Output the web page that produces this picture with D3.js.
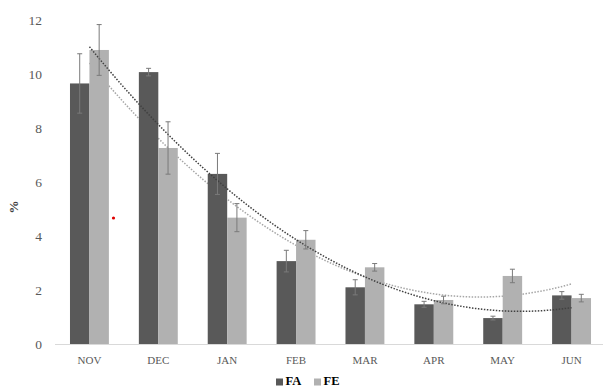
<!DOCTYPE html>
<html><head><meta charset="utf-8">
<script src="https://cdn.jsdelivr.net/npm/d3@7"></script>
<style>body{margin:0;background:#fff}svg{display:block}</style>
</head><body>
<svg id="c" width="603" height="387"></svg>
<script>
const categories = ["NOV","DEC","JAN","FEB","MAR","APR","MAY","JUN"];
const seriesNames = ["FA","FE"];
const faValues = [9.65,10.07,6.30,3.07,2.10,1.47,0.96,1.80];
const feValues = [10.89,7.26,4.68,3.86,2.84,1.63,2.52,1.70];
const faErrors = [1.10,0.14,0.76,0.40,0.28,0.11,0.07,0.14];
const feErrors = [0.94,0.97,0.52,0.34,0.14,0.14,0.25,0.14];
const yTicks = [0,2,4,6,8,10,12];
const colors = {FA:"#595959", FE:"#b1b1b1"};

const svg = d3.select("#c");
const x0 = d3.scaleBand().domain(categories).range([55,606]).padding(0);
const x1 = d3.scaleBand().domain(seriesNames).range([0,x0.bandwidth()]).paddingInner(0).paddingOuter(0.77);
const y = d3.scaleLinear().domain([0,12]).range([344,20]);

const data = {FA:faValues, FE:feValues};
const errs = {FA:faErrors, FE:feErrors};

// trendlines (order-2 polynomial least squares, like the spreadsheet trendline)
function polyFit(vals){
  const xs=vals.map((_,i)=>i+1);
  let S=[0,0,0,0,0], T=[0,0,0];
  xs.forEach((xv,i)=>{for(let k=0;k<5;k++)S[k]+=Math.pow(xv,k); for(let k=0;k<3;k++)T[k]+=Math.pow(xv,k)*vals[i];});
  const M=[[S[0],S[1],S[2],T[0]],[S[1],S[2],S[3],T[1]],[S[2],S[3],S[4],T[2]]];
  for(let i=0;i<3;i++){for(let j=i+1;j<3;j++){const f=M[j][i]/M[i][i];for(let k=i;k<4;k++)M[j][k]-=f*M[i][k];}}
  const c=[0,0,0];
  for(let i=2;i>=0;i--){let s=M[i][3];for(let k=i+1;k<3;k++)s-=M[i][k]*c[k];c[i]=s/M[i][i];}
  return xv=>c[0]+c[1]*xv+c[2]*xv*xv;
}
function trendPath(vals){
  const f=polyFit(vals); const pts=[];
  const steps=140;
  const start=x0(categories[0])+x0.bandwidth()/2;
  for(let s=0;s<=steps;s++){const xv=1+7*s/steps; pts.push([start+(xv-1)*x0.step(), y(f(xv))]);}
  return d3.line()(pts);
}

// light trend drawn under bars
svg.append("path").attr("d",trendPath(feValues)).attr("fill","none")
  .attr("stroke","#a6a6a6").attr("stroke-width",1.5).attr("stroke-dasharray","1.5,1.5");

// bars
const g = svg.append("g");
seriesNames.forEach(s=>{
  g.selectAll(null).data(categories).enter().append("rect")
    .attr("x",c=>x0(c)+x1(s)).attr("width",x1.bandwidth())
    .attr("y",(c,i)=>y(data[s][i])).attr("height",(c,i)=>y(0)-y(data[s][i]))
    .attr("fill",colors[s]);
});

// dark trend over bars
svg.append("path").attr("d",trendPath(faValues)).attr("fill","none")
  .attr("stroke","#404040").attr("stroke-width",1.5).attr("stroke-dasharray","1.5,1.5");

// error bars
seriesNames.forEach(s=>{
  categories.forEach((c,i)=>{
    const xm = x0(c)+x1(s)+x1.bandwidth()/2;
    const v=data[s][i], e=errs[s][i];
    const eg=svg.append("g").attr("stroke","#7a7a7a").attr("stroke-width",1);
    eg.append("line").attr("x1",xm).attr("x2",xm).attr("y1",y(v+e)).attr("y2",y(v-e));
    eg.append("line").attr("x1",xm-2.5).attr("x2",xm+2.5).attr("y1",y(v+e)).attr("y2",y(v+e));
    eg.append("line").attr("x1",xm-2.5).attr("x2",xm+2.5).attr("y1",y(v-e)).attr("y2",y(v-e));
  });
});

// x axis baseline
svg.append("line").attr("x1",55).attr("x2",603).attr("y1",y(0)+0.5).attr("y2",y(0)+0.5)
  .attr("stroke","#d9d9d9").attr("stroke-width",1);

// x labels
svg.selectAll(null).data(categories).enter().append("text")
  .attr("x",c=>x0(c)+x0.bandwidth()/2).attr("y",364)
  .attr("text-anchor","middle").attr("font-family","Liberation Serif, serif")
  .attr("font-size",11).attr("fill","#595959").text(c=>c);

// y labels
svg.selectAll(null).data(yTicks).enter().append("text")
  .attr("x",42).attr("y",t=>y(t)+4.5)
  .attr("text-anchor","end").attr("font-family","Liberation Serif, serif")
  .attr("font-size",13.5).attr("fill","#595959").text(t=>t);

// y title
svg.append("text").attr("transform","translate(18,207) rotate(-90)")
  .attr("text-anchor","middle").attr("font-family","Liberation Serif, serif")
  .attr("font-weight","bold").attr("font-size",13).attr("fill","#404040").text("%");

// small red mark
svg.append("circle").attr("cx",113.5).attr("cy",218).attr("r",1.6).attr("fill","#e00000");

// legend
const lg = svg.append("g");
const legendX = [276,314];
seriesNames.forEach((s,i)=>{
  lg.append("rect").attr("x",legendX[i]).attr("y",378.5).attr("width",7).attr("height",7).attr("fill",colors[s]);
  lg.append("text").attr("x",legendX[i]+9.5).attr("y",385).attr("font-family","Liberation Serif, serif")
    .attr("font-weight","bold").attr("font-size",12.5).attr("fill","#000").text(s);
});
</script>
</body></html>
